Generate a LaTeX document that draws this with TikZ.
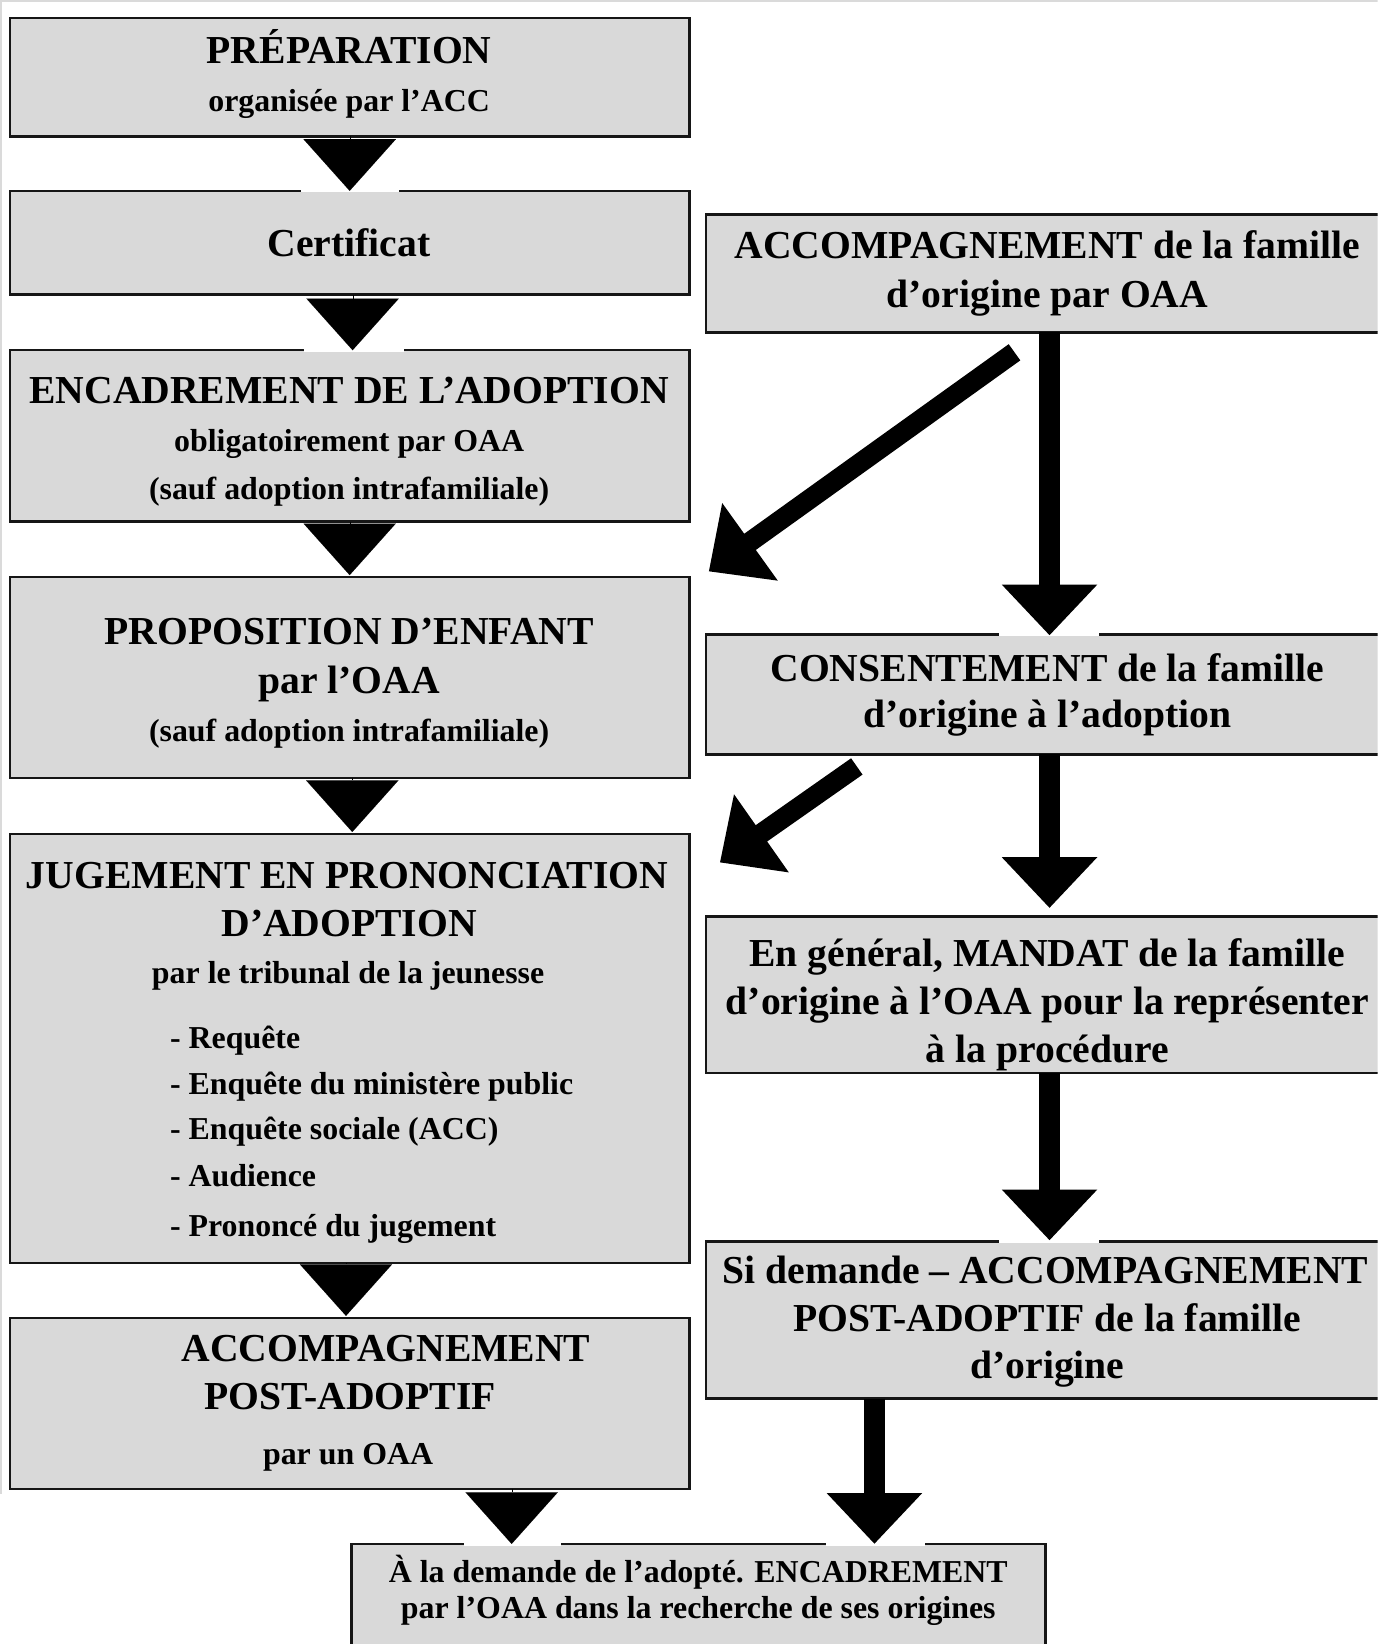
\documentclass[tikz,border=0pt]{standalone}
\usepackage{fontspec}
\setmainfont{Liberation Serif}
\usetikzlibrary{arrows.meta,calc}
\definecolor{boxfill}{RGB}{217,217,217}
\definecolor{boxline}{RGB}{22,22,22}
\definecolor{framegray}{RGB}{218,218,218}
\begin{document}
\begin{tikzpicture}[x=0.5pt,y=-0.5pt,
  box/.style={draw=boxline, fill=boxfill, line width=1.2pt, inner sep=0pt, outer sep=0pt, anchor=north west},
  big/.style={font=\fontsize{18.9}{18.9}\selectfont\bfseries, inner sep=0pt, anchor=base},
  small/.style={font=\fontsize{15.2}{15.2}\selectfont\bfseries, inner sep=0pt, anchor=base},
  item/.style={small, anchor=base west},
  tri/.style={line width=0.01pt, -{Triangle[width=44pt,length=24.6pt]}},
  fatarrow/.style={line width=10pt, -{Triangle[width=44pt,length=24.2pt]}},
  gapline/.style={white, line width=1.6pt}]
\useasboundingbox (0,0) rectangle (1314,1568);
\clip (0,0) rectangle (1314,1568);
% faint page frame
\draw[framegray, line width=0.8pt] (0,1) -- (1314,1);
\draw[framegray, line width=0.8pt] (1.2,0) -- (1.2,1425);
% left column boxes
\node[box, minimum width=324pt, minimum height=56.5pt] (A) at (9.5,17) {};
\node[box, minimum width=324pt, minimum height=49.5pt] (B) at (9.5,182) {};
\node[box, minimum width=324pt, minimum height=81.75pt] (C) at (9.5,334) {};
\node[box, minimum width=324pt, minimum height=95.75pt] (D) at (9.5,550.5) {};
\node[box, minimum width=324pt, minimum height=204.5pt] (E) at (9.5,795.5) {};
\node[box, minimum width=324pt, minimum height=81.5pt] (F) at (9.5,1257) {};
\node[box, minimum width=331pt, minimum height=53.75pt] (G) at (335,1472.5) {};
% right column boxes
\node[box, minimum width=325.75pt, minimum height=56.25pt] (R1) at (673.5,204.5) {};
\node[box, minimum width=325.75pt, minimum height=57.25pt] (R2) at (673.5,605) {};
\node[box, minimum width=325.75pt, minimum height=74.75pt] (R3) at (673.5,874) {};
\node[box, minimum width=325.75pt, minimum height=75pt] (R4) at (673.5,1184) {};
% texts
\node[big] (a1) at (333,60.4) {PRÉPARATION};
\node[small] (a2) at (333,106.5) {organisée par l’ACC};
\node[big] (b1) at (333,244.8) {Certificat};
\node[big] (c1) at (333,384.6) {ENCADREMENT DE L’ADOPTION};
\node[small] (c2) at (333,430.7) {obligatoirement par OAA};
\node[small] (c3) at (333,476.1) {(sauf adoption intrafamiliale)};
\node[big] (d1) at (333,615) {PROPOSITION D’ENFANT};
\node[big] (d2) at (333,661.1) {par l’OAA};
\node[small] (d3) at (333,707.2) {(sauf adoption intrafamiliale)};
\node[big] (e1) at (331,847) {JUGEMENT EN PRONONCIATION};
\node[big] (e2) at (333,893) {D’ADOPTION};
\node[small] (e3) at (332,937.7) {par le tribunal de la jeunesse};
\node[item] (e4) at (161.8,999.7) {- Requête};
\node[item] (e5) at (161.8,1044) {- Enquête du ministère public};
\node[item] (e6) at (161.8,1087) {- Enquête sociale (ACC)};
\node[item] (e7) at (161.8,1131.6) {- Audience};
\node[item] (e8) at (161.8,1179.3) {- Prononcé du jugement};
\node[big] (f1) at (368.2,1298.4) {ACCOMPAGNEMENT};
\node[big] (f2) at (334,1344.5) {POST-ADOPTIF};
\node[small] (f3) at (332,1397) {par un OAA};
\node[small] (g1) at (666,1509.8) {À la demande de l’adopté. ENCADREMENT};
\node[small] (g2) at (666,1543.2) {par l’OAA dans la recherche de ses origines};
\node[big] (r11) at (999,246.2) {ACCOMPAGNEMENT de la famille};
\node[big] (r12) at (999,293) {d’origine par OAA};
\node[big] (r21) at (999,650) {CONSENTEMENT de la famille};
\node[big] (r22) at (999,693.5) {d’origine à l’adoption};
\node[big] (r31) at (999,921.8) {En général, MANDAT de la famille};
\node[big] (r32) at (999,967.9) {d’origine à l’OAA pour la représenter};
\node[big] (r33) at (999,1013) {à la procédure};
\node[big] (r41) at (997,1223.7) {Si demande – ACCOMPAGNEMENT};
\node[big] (r42) at (999,1270.4) {POST-ADOPTIF de la famille};
\node[big] (r43) at (999,1314.3) {d’origine};
% white breaks in borders under arrow tips
\draw[gapline] (287,182) -- (381,182);
\draw[gapline] (289.5,334) -- (385,334);
\draw[gapline] (953,605) -- (1048,605);
\draw[gapline] (953,1184) -- (1048,1184);
\draw[gapline] (443,1472.5) -- (535,1472.5);
\draw[gapline] (788,1472.5) -- (882,1472.5);
% helper coordinates
\coordinate (x2) at (336.3,0);
\coordinate (x4) at (336,0);
\coordinate (x5) at (330,0);
\coordinate (x6) at (488,0);
\coordinate (v) at (1001,0);
\coordinate (v2) at (834,0);
\coordinate (d1s) at (967.6,336);
\coordinate (d1e) at (676,545);
\coordinate (d2s) at (817.2,731);
\coordinate (d2e) at (686.6,822.6);
% left column triangles
\draw[tri] (A.south) -- (B.north);
\draw[tri] (B.south -| x2) -- (C.north -| x2);
\draw[tri] (C.south) -- ($(D.north)+(0,-2)$);
\draw[tri] (D.south -| x4) -- ($(E.north -| x4)+(0,-2)$);
\draw[tri] (E.south -| x5) -- ($(F.north -| x5)+(0,-2)$);
\draw[tri] (F.south -| x6) -- (G.north -| x6);
% right column arrows
\draw[fatarrow] (R1.south -| v) -- ($(R2.north -| v)+(0,1)$);
\draw[fatarrow] (R2.south -| v) -- ($(R3.north -| v)+(0,-8)$);
\draw[fatarrow] (R3.south -| v) -- ($(R4.north -| v)+(0,-1)$);
\draw[fatarrow] (R4.south -| v2) -- (G.north -| v2);
% diagonal arrows
\draw[fatarrow, line width=9.5pt] (d1s) -- (d1e);
\draw[fatarrow, line width=9.5pt] (d2s) -- (d2e);
\end{tikzpicture}
\end{document}
